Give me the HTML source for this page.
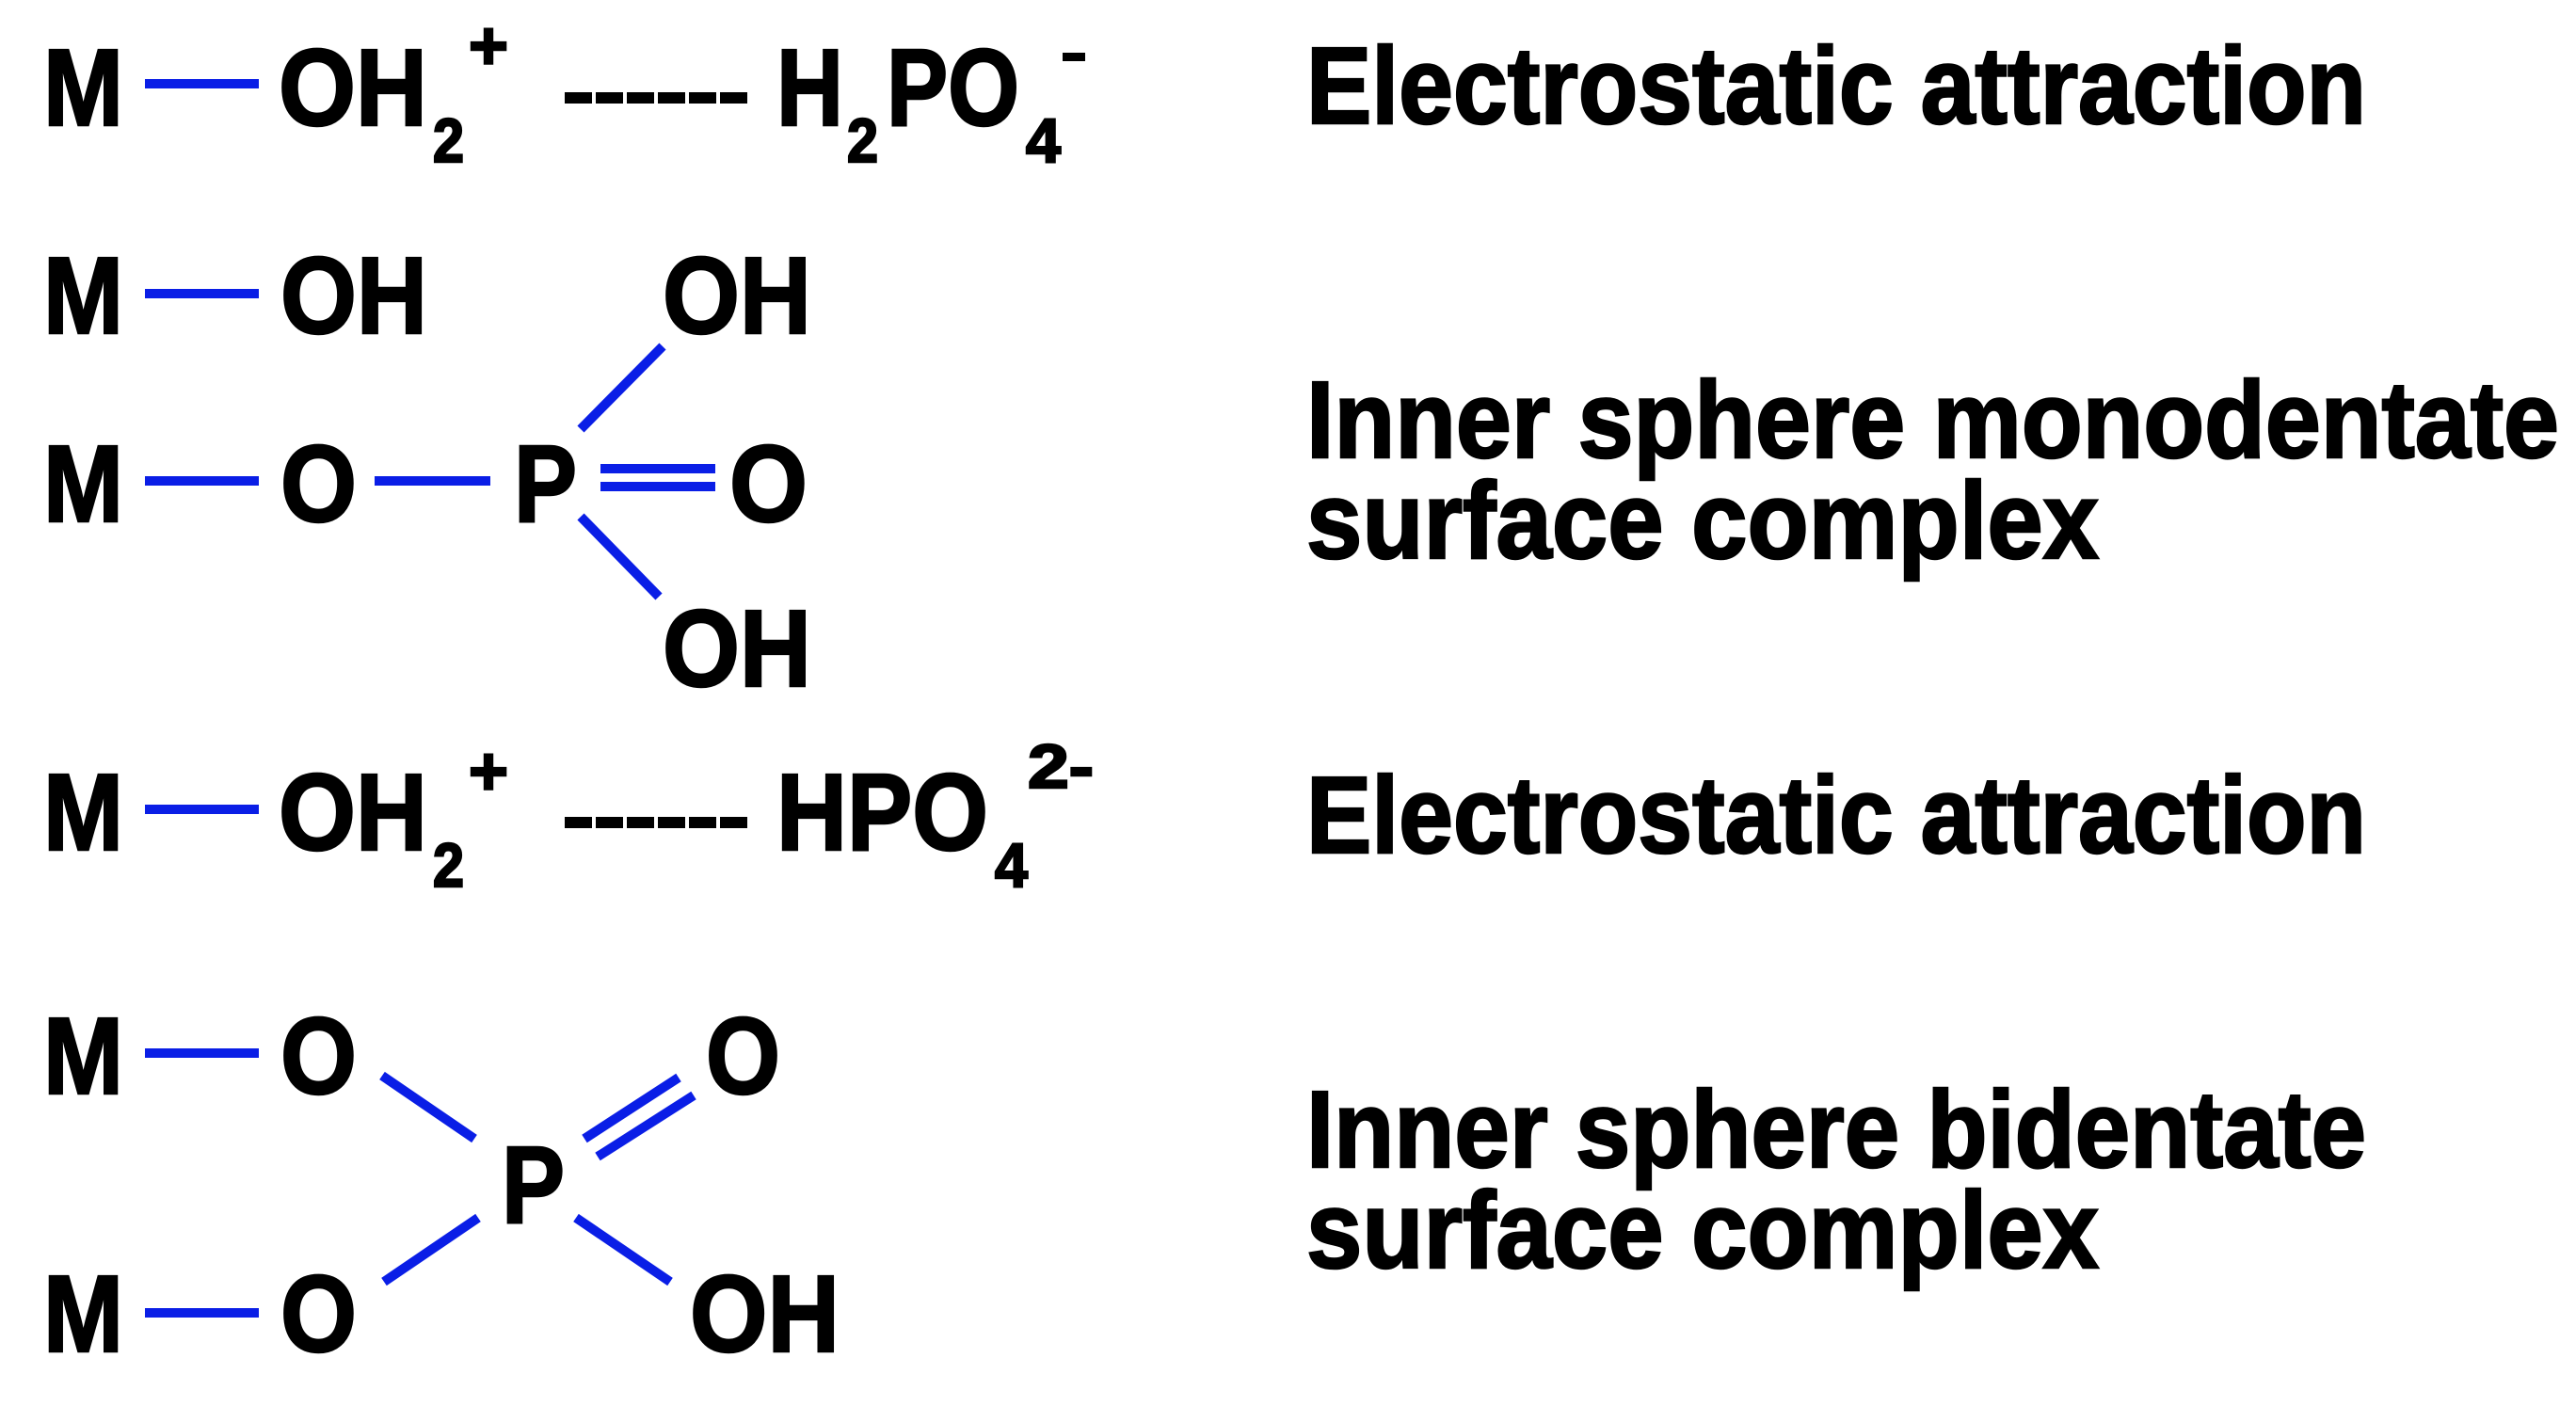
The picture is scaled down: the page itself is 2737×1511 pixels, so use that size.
<!DOCTYPE html>
<html><head><meta charset="utf-8"><style>
html,body{margin:0;padding:0;background:#fff;width:2737px;height:1511px;overflow:hidden}
svg{display:block}
text{font-family:"Liberation Sans",Arial,sans-serif;font-weight:bold;fill:#000;stroke:#000;stroke-width:2.5}
</style></head><body>
<svg width="2737" height="1511" viewBox="0 0 2737 1511" xmlns="http://www.w3.org/2000/svg">
<g stroke="#0a1ee6" stroke-width="10" fill="none">
<line x1="154" y1="89" x2="275" y2="89"/>
<line x1="154" y1="312" x2="275" y2="312"/>
<line x1="154" y1="511" x2="275" y2="511"/>
<line x1="398" y1="511" x2="521" y2="511"/>
<line x1="638" y1="498" x2="760" y2="498"/>
<line x1="638" y1="517" x2="760" y2="517"/>
<line x1="704" y1="368" x2="617" y2="456"/>
<line x1="617" y1="549" x2="700" y2="634"/>
<line x1="154" y1="860" x2="275" y2="860"/>
<line x1="154" y1="1119" x2="275" y2="1119"/>
<line x1="154" y1="1395" x2="275" y2="1395"/>
<line x1="406" y1="1143" x2="504" y2="1210"/>
<line x1="721" y1="1145" x2="621" y2="1210"/>
<line x1="737" y1="1164" x2="635" y2="1229"/>
<line x1="508" y1="1294" x2="408" y2="1362"/>
<line x1="612" y1="1294" x2="712" y2="1362"/>
</g>
<g stroke="#000" stroke-width="12" stroke-dasharray="29,4">
<line x1="600" y1="104" x2="796" y2="104"/>
<line x1="600" y1="874" x2="796" y2="874"/>
</g>
<g font-size="116">
<text x="46" y="133" textLength="85" lengthAdjust="spacingAndGlyphs">M</text>
<text x="296" y="133" textLength="158" lengthAdjust="spacingAndGlyphs">OH</text>
<text x="825" y="133" textLength="71" lengthAdjust="spacingAndGlyphs">H</text>
<text x="942" y="133" textLength="141" lengthAdjust="spacingAndGlyphs">PO</text>
<text x="46" y="354" textLength="85" lengthAdjust="spacingAndGlyphs">M</text>
<text x="298" y="354" textLength="156" lengthAdjust="spacingAndGlyphs">OH</text>
<text x="704" y="354" textLength="158" lengthAdjust="spacingAndGlyphs">OH</text>
<text x="46" y="554" textLength="85" lengthAdjust="spacingAndGlyphs">M</text>
<text x="298" y="554" textLength="81" lengthAdjust="spacingAndGlyphs">O</text>
<text x="546" y="554" textLength="67" lengthAdjust="spacingAndGlyphs">P</text>
<text x="775" y="554" textLength="83" lengthAdjust="spacingAndGlyphs">O</text>
<text x="704" y="729" textLength="158" lengthAdjust="spacingAndGlyphs">OH</text>
<text x="46" y="903" textLength="85" lengthAdjust="spacingAndGlyphs">M</text>
<text x="296" y="903" textLength="158" lengthAdjust="spacingAndGlyphs">OH</text>
<text x="825" y="903" textLength="225" lengthAdjust="spacingAndGlyphs">HPO</text>
<text x="46" y="1162" textLength="85" lengthAdjust="spacingAndGlyphs">M</text>
<text x="298" y="1162" textLength="81" lengthAdjust="spacingAndGlyphs">O</text>
<text x="750" y="1162" textLength="79" lengthAdjust="spacingAndGlyphs">O</text>
<text x="533" y="1299" textLength="67" lengthAdjust="spacingAndGlyphs">P</text>
<text x="46" y="1436" textLength="85" lengthAdjust="spacingAndGlyphs">M</text>
<text x="298" y="1436" textLength="81" lengthAdjust="spacingAndGlyphs">O</text>
<text x="733" y="1436" textLength="159" lengthAdjust="spacingAndGlyphs">OH</text>
<text x="1388" y="131" textLength="1126" lengthAdjust="spacingAndGlyphs">Electrostatic attraction</text>
<text x="1388" y="486" textLength="1331" lengthAdjust="spacingAndGlyphs">Inner sphere monodentate</text>
<text x="1388" y="593" textLength="842" lengthAdjust="spacingAndGlyphs">surface complex</text>
<text x="1388" y="906" textLength="1126" lengthAdjust="spacingAndGlyphs">Electrostatic attraction</text>
<text x="1388" y="1240" textLength="1126" lengthAdjust="spacingAndGlyphs">Inner sphere bidentate</text>
<text x="1388" y="1347" textLength="842" lengthAdjust="spacingAndGlyphs">surface complex</text>
</g>
<g font-size="66">
<text x="460" y="172" textLength="33" lengthAdjust="spacingAndGlyphs">2</text>
<text x="900" y="172" textLength="33" lengthAdjust="spacingAndGlyphs">2</text>
<text x="1090" y="172" textLength="37" lengthAdjust="spacingAndGlyphs">4</text>
<text x="460" y="942" textLength="33" lengthAdjust="spacingAndGlyphs">2</text>
<text x="1057" y="942" textLength="35" lengthAdjust="spacingAndGlyphs">4</text>
<text x="1092" y="837" textLength="70" lengthAdjust="spacingAndGlyphs">2-</text>
</g>
<g font-size="72">
<text x="498" y="73" textLength="42" lengthAdjust="spacingAndGlyphs">+</text>
<text x="498" y="844" textLength="42" lengthAdjust="spacingAndGlyphs">+</text>
</g>
<rect x="1129" y="56" width="24" height="9" fill="#000"/>
</svg>
</body></html>
